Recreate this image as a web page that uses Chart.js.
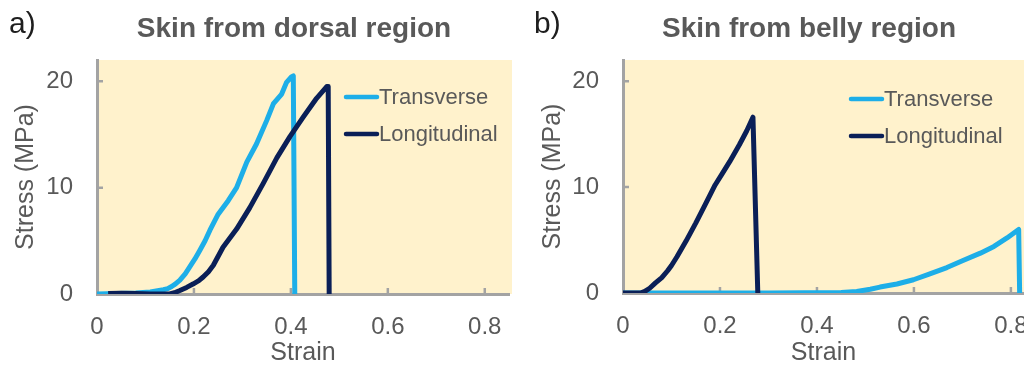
<!DOCTYPE html>
<html>
<head>
<meta charset="utf-8">
<script src="https://cdn.jsdelivr.net/npm/chart.js@4/dist/chart.umd.min.js"></script>
<style>
  html, body { margin: 0; padding: 0; background: #fff; }
  #wrap { position: relative; width: 1024px; height: 366px; overflow: hidden; }
  canvas { position: absolute; top: 0; }
  #dorsal { left: 0; }
  #belly { left: 512px; }
</style>
</head>
<body>
<div id="wrap">
  <canvas id="dorsal" width="512" height="366"></canvas>
  <canvas id="belly" width="512" height="366"></canvas>
</div>
<script>
// Series names and colours
const seriesLabels = ['Transverse', 'Longitudinal'];
const seriesColors = ['#1daee8', '#0a1f57'];

// Axis tick values
const strainTicks = [0, 0.2, 0.4, 0.6, 0.8];
const stressTicks = [0, 10, 20];

// Skin from dorsal region: strain (-) and stress (MPa)
const dorsalTransStrain = [0, 0.04, 0.08, 0.11, 0.137, 0.146, 0.154, 0.162, 0.171, 0.182, 0.192, 0.202, 0.212, 0.223, 0.233, 0.25, 0.271, 0.288, 0.309, 0.329, 0.35, 0.364, 0.381, 0.391, 0.401, 0.405, 0.408];
const dorsalTransStress = [0, 0.05, 0.1, 0.2, 0.4, 0.5, 0.7, 0.95, 1.3, 1.9, 2.6, 3.3, 4.1, 5.0, 6.0, 7.5, 8.8, 10.0, 12.4, 14.1, 16.3, 17.9, 18.8, 19.9, 20.4, 20.5, 0];
const dorsalLongStrain = [0.023, 0.05, 0.08, 0.11, 0.15, 0.16, 0.171, 0.185, 0.199, 0.21, 0.219, 0.23, 0.24, 0.26, 0.288, 0.315, 0.343, 0.371, 0.398, 0.425, 0.453, 0.474, 0.477, 0.479];
const dorsalLongStress = [0.05, 0.08, 0.05, 0, 0, 0.12, 0.33, 0.62, 0.96, 1.25, 1.6, 2.1, 2.7, 4.4, 6.1, 8.1, 10.4, 12.8, 14.8, 16.6, 18.4, 19.5, 19.5, 0];

// Skin from belly region: strain (-) and stress (MPa)
const bellyTransStrain = [0, 0.3, 0.45, 0.482, 0.51, 0.53, 0.565, 0.599, 0.63, 0.668, 0.7, 0.737, 0.765, 0.792, 0.816, 0.818];
const bellyTransStress = [0, 0, 0.05, 0.15, 0.35, 0.56, 0.85, 1.25, 1.75, 2.4, 3.05, 3.76, 4.4, 5.2, 6.0, 0];
const bellyLongStrain = [0, 0.036, 0.045, 0.055, 0.067, 0.08, 0.092, 0.1, 0.111, 0.13, 0.15, 0.17, 0.19, 0.205, 0.22, 0.24, 0.255, 0.268, 0.278];
const bellyLongStress = [0, 0, 0.15, 0.45, 0.95, 1.45, 2.1, 2.6, 3.4, 4.9, 6.6, 8.4, 10.2, 11.3, 12.4, 14.0, 15.3, 16.6, 0];

const FONT = '"Liberation Sans", Arial, Helvetica, sans-serif';
const TEXT_GREY = '#595959';
const AXIS_GREY = '#a3a3a3';

const toPoints = (xs, ys) => xs.map((x, i) => ({ x, y: ys[i] }));

// Fills the plotting area with the pale panel colour
const panelBackground = {
  id: 'panelBackground',
  beforeDraw(chart, args, opts) {
    const { ctx, chartArea: a } = chart;
    ctx.save();
    ctx.fillStyle = opts.color;
    ctx.fillRect(a.left, a.top, a.right - a.left + 4, a.bottom - a.top);
    ctx.restore();
  }
};

// Short tick marks pointing into the plotting area
const innerTicks = {
  id: 'innerTicks',
  beforeDatasetsDraw(chart, args, opts) {
    const { ctx, chartArea: a, scales: { x, y } } = chart;
    ctx.save();
    ctx.strokeStyle = opts.color;
    ctx.lineWidth = opts.width;
    ctx.beginPath();
    x.ticks.forEach(t => {
      if (t.value === 0) return;
      const px = x.getPixelForValue(t.value);
      ctx.moveTo(px, a.bottom);
      ctx.lineTo(px, a.bottom - opts.length);
    });
    y.ticks.forEach(t => {
      if (t.value === 0) return;
      const py = y.getPixelForValue(t.value);
      ctx.moveTo(a.left, py);
      ctx.lineTo(a.left + opts.length, py);
    });
    ctx.stroke();
    ctx.restore();
  }
};

// Legend with a line sample followed directly by the series name
const lineLegend = {
  id: 'lineLegend',
  afterDatasetsDraw(chart, args, opts) {
    const { ctx } = chart;
    ctx.save();
    ctx.font = opts.font;
    ctx.textBaseline = 'middle';
    ctx.textAlign = 'left';
    chart.data.datasets.forEach((ds, i) => {
      const y = opts.y + i * opts.spacing;
      ctx.strokeStyle = ds.borderColor;
      ctx.lineWidth = opts.lineWidth;
      ctx.lineCap = 'round';
      ctx.beginPath();
      ctx.moveTo(opts.x, y);
      ctx.lineTo(opts.x + opts.lineLength, y);
      ctx.stroke();
      ctx.fillStyle = opts.textColor;
      ctx.fillText(ds.label, opts.x + opts.lineLength + opts.gap, y + 1);
    });
    ctx.restore();
  }
};

// Panel letter and heading above the plot
const panelHeading = {
  id: 'panelHeading',
  afterDraw(chart, args, opts) {
    const { ctx } = chart;
    ctx.save();
    ctx.textBaseline = 'alphabetic';
    ctx.font = 'bold 28px ' + FONT;
    ctx.fillStyle = TEXT_GREY;
    ctx.textAlign = 'center';
    ctx.fillText(opts.title, opts.titleX, opts.baseline);
    ctx.font = '30px ' + FONT;
    ctx.fillStyle = '#1e1e1e';
    ctx.textAlign = 'left';
    ctx.fillText(opts.tag, opts.tagX, opts.tagBaseline);
    ctx.restore();
  }
};

function makePanel(canvasId, p) {
  return new Chart(document.getElementById(canvasId), {
    type: 'line',
    data: {
      datasets: [
        { label: seriesLabels[0], data: toPoints(p.transStrain, p.transStress), borderColor: seriesColors[0], order: 1 },
        { label: seriesLabels[1], data: toPoints(p.longStrain, p.longStress), borderColor: seriesColors[1], order: 0 }
      ]
    },
    options: {
      responsive: false,
      animation: false,
      devicePixelRatio: 1,
      events: [],
      layout: { padding: { top: 60, left: 0, right: p.padRight, bottom: 0 } },
      elements: {
        line: { borderWidth: 5, tension: 0, borderJoinStyle: 'round', fill: false },
        point: { radius: 0 }
      },
      scales: {
        x: {
          type: 'linear',
          min: 0,
          max: p.xMax,
          afterBuildTicks: s => { s.ticks = strainTicks.map(v => ({ value: v })); },
          afterFit: s => { s.height = p.xAxisHeight; s.paddingLeft = 0; s.paddingRight = 0; },
          grid: { display: false, drawTicks: false },
          border: { display: true, color: AXIS_GREY, width: 3 },
          ticks: {
            padding: 19, color: TEXT_GREY, autoSkip: false, maxRotation: 0,
            font: { family: FONT, size: 24 },
            callback: v => String(v)
          },
          title: {
            display: true, text: 'Strain', color: TEXT_GREY,
            font: { family: FONT, size: 25, lineHeight: 1 },
            padding: { top: 0, bottom: 0 }
          }
        },
        y: {
          type: 'linear',
          min: 0,
          max: 22,
          afterBuildTicks: s => { s.ticks = stressTicks.map(v => ({ value: v })); },
          afterFit: s => { s.width = p.yAxisWidth; s.paddingTop = 0; s.paddingBottom = 0; },
          grid: { display: false, drawTicks: false },
          border: { display: true, color: AXIS_GREY, width: 3 },
          ticks: {
            padding: 24, color: TEXT_GREY,
            font: { family: FONT, size: 24 },
            callback: v => String(v)
          },
          title: {
            display: true, text: 'Stress (MPa)', color: TEXT_GREY,
            font: { family: FONT, size: 25, lineHeight: 1 },
            padding: { top: p.yTitlePad, bottom: 0 }
          }
        }
      },
      plugins: {
        legend: { display: false },
        tooltip: { enabled: false },
        title: { display: false },
        panelBackground: { color: '#fff2cc' },
        innerTicks: { color: AXIS_GREY, width: 2.5, length: 6 },
        lineLegend: {
          x: p.legendX, y: p.legendY, spacing: 37, lineLength: 31, gap: 2, lineWidth: 4.5,
          font: '22px ' + FONT, textColor: TEXT_GREY
        },
        panelHeading: {
          title: p.title, titleX: p.titleX, baseline: 37,
          tag: p.tag, tagX: p.tagX, tagBaseline: 33
        }
      }
    },
    plugins: [panelBackground, innerTicks, lineLegend, panelHeading]
  });
}

makePanel('dorsal', {
  transStrain: dorsalTransStrain, transStress: dorsalTransStress,
  longStrain: dorsalLongStrain, longStress: dorsalLongStress,
  xMax: 0.85, padRight: 3, yAxisWidth: 97, xAxisHeight: 72, yTitlePad: 14,
  legendX: 346, legendY: 97,
  title: 'Skin from dorsal region', titleX: 294, tag: 'a)', tagX: 9
});

makePanel('belly', {
  transStrain: bellyTransStrain, transStress: bellyTransStress,
  longStrain: bellyLongStrain, longStress: bellyLongStress,
  xMax: 0.827, padRight: 0, yAxisWidth: 111, xAxisHeight: 73, yTitlePad: 29,
  legendX: 339, legendY: 99,
  title: 'Skin from belly region', titleX: 297, tag: 'b)', tagX: 22
});
</script>
</body>
</html>
